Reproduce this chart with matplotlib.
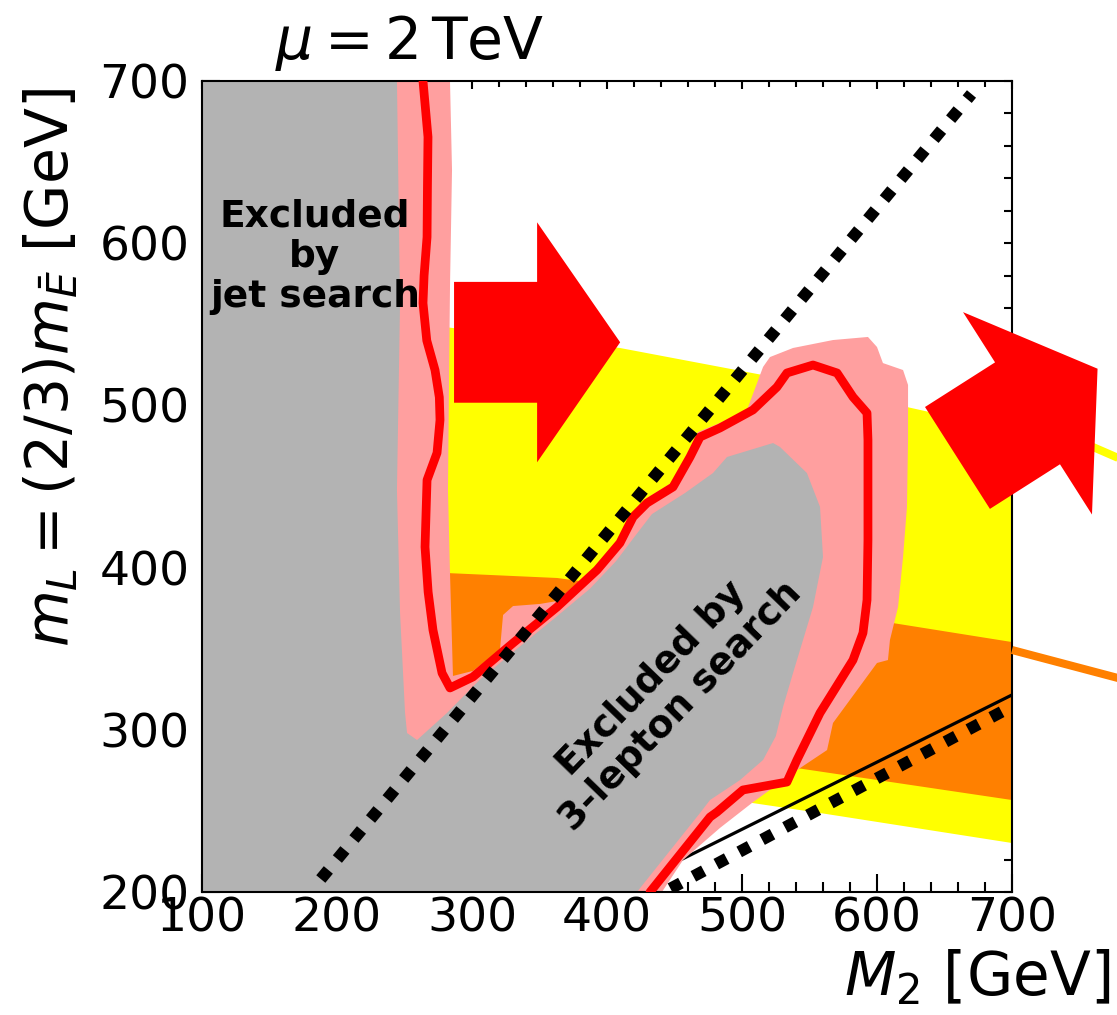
import numpy as np
import matplotlib
matplotlib.use("Agg")
import matplotlib.pyplot as plt
from matplotlib.patches import Polygon
from matplotlib.ticker import MultipleLocator
from matplotlib.transforms import Affine2D, ScaledTranslation

# ---------------- data (GeV) ----------------
# observed exclusion contour (red line)
limit_m2 = [263.7, 267.4, 267.0, 266.7, 264.5, 263.7, 266.5, 272.6, 275.8, 276.3, 274.1,
            266.7, 265.2, 267.5, 271.1, 277.8, 283.7, 300.7, 330.4, 363.0, 392.6,
            409.6, 419.3, 429.6, 448.9, 461.5, 468.9, 483.7, 508.1, 525.9, 533.3,
            552.6, 570.4, 582.2, 592.6, 593.3, 593.3, 592.6, 589.6, 582.2, 557.8,
            540.7, 533.3, 500.7, 481.5, 476.3, 431.9]
limit_ml = [700.0, 665.5, 635.0, 603.8, 580.0, 563.1, 540.0, 521.8, 505.0, 491.0, 470.7,
            454.0, 412.7, 385.0, 361.5, 335.0, 325.8, 332.6, 353.5, 375.7, 398.5,
            415.2, 431.2, 439.8, 449.7, 468.2, 480.5, 486.1, 497.2, 511.3, 520.0,
            524.9, 520.0, 505.2, 495.3, 478.7, 417.0, 380.0, 359.7, 343.0, 310.4,
            281.4, 267.8, 262.9, 249.3, 246.2, 200.0]

# outer edge of the uncertainty band (pink)
band_outer_m2 = [100, 100, 283.7, 285.2, 283.7, 282.2, 283.7, 285.9, 300.7, 320.7,
                 323.0, 330.4, 350.4, 363.0, 392.6, 409.6, 419.3, 429.6, 448.9, 460.0,
                 467.4, 483.7, 503.7, 515.6, 520.7, 537.8, 567.4, 593.3, 600.0, 604.4,
                 619.3, 623.0, 623.0, 622.2, 619.3, 615.6, 609.6, 608.1, 600.0, 567.4,
                 563.0, 543.0, 507.4, 483.7, 456.3, 440.7]
band_outer_ml = [200, 700, 700, 645.1, 573.0, 447.8, 396.7, 333.2, 336.3, 349.2,
                 370.8, 376.3, 377.6, 379.4, 401.6, 418.2, 434.3, 442.9, 452.8, 471.3,
                 483.6, 489.2, 497.2, 523.7, 529.8, 535.4, 540.3, 542.2, 536.0, 526.1,
                 521.8, 512.6, 478.7, 437.4, 406.5, 375.7, 355.4, 343.0, 341.2, 304.2,
                 287.5, 276.4, 254.9, 239.5, 219.7, 200]

# inner edge of the band (grey, excluded)
core_m2 = [100, 100, 244.4, 246.7, 244.4, 246.7, 250.4, 251.9, 259.3, 281.5,
           305.9, 335.6, 361.5, 387.4, 406.7, 422.2, 433.3, 457.8, 478.5, 488.9,
           523.0, 528.1, 548.1, 557.8, 560.0, 552.6, 537.8, 530.4, 525.0, 515.6,
           498.5, 476.3, 468.9, 422.2]
core_ml = [200, 700, 700, 563.1, 447.8, 372.0, 310.4, 298.0, 293.7, 310.4,
           331.0, 351.5, 369.0, 387.0, 404.0, 421.0, 433.0, 446.0, 458.3, 468.2,
           476.8, 474.4, 458.3, 437.4, 406.5, 375.7, 335.0, 314.1, 296.0, 281.4,
           269.0, 256.7, 248.7, 200]

# coloured bands
yellow_top_m2 = [280, 409.6, 515.6, 622.2, 700]
yellow_top_ml = [548.3, 535.4, 518.7, 499.0, 484.6]
yellow_bottom_m2 = [700, 557.8, 507.4, 280]
yellow_bottom_ml = [230.2, 248.7, 254.9, 290]
orange_top_m2 = [280, 363.0, 611.9, 700]
orange_top_ml = [396.7, 393.6, 365.8, 354.1]
orange_bottom_m2 = [700, 540.7, 280]
orange_bottom_ml = [256.7, 276.4, 305]

# pointer lines leaving the frame
yellow_ptr_m2 = [700, 790]
yellow_ptr_ml = [496.0, 463.5]
orange_ptr_m2 = [700, 790]
orange_ptr_ml = [349.2, 329.4]

# straight lines
diag_m2 = [188, 670]
diag_ml = [208, 692]
kin_dot_m2 = [447, 700]
kin_dot_ml = [202.1, 314.5]
kin_solid_m2 = [440, 700]
kin_solid_ml = [213.8, 321.5]

# arrows: tail centre (M2, mL) and direction (deg)
arrow_m2 = [286.7, 659.6]
arrow_ml = [538.9, 467.6]
arrow_angle = [0.0, 32.5]

xticks = [100, 200, 300, 400, 500, 600, 700]
yticks = [200, 300, 400, 500, 600, 700]

# colours
GRAY = "#b3b3b3"
PINK = "#ff9f9f"
RED = "#ff0000"
YELLOW = "#ffff00"
ORANGE = "#ff8000"

# ---------------- figure ----------------
W, H, DPI = 1117, 1015, 100
fig = plt.figure(figsize=(W / DPI, H / DPI), dpi=DPI)
ax = fig.add_axes([202 / W, 1 - 892 / H, 810 / W, 811 / H])
ax.set_xlim(100, 700)
ax.set_ylim(200, 700)


def poly(xs, ys, **kw):
    p = Polygon(np.column_stack([xs, ys]), closed=True, lw=0, **kw)
    ax.add_patch(p)
    return p


poly(list(yellow_top_m2) + list(yellow_bottom_m2),
     list(yellow_top_ml) + list(yellow_bottom_ml), fc=YELLOW, zorder=1.0)
poly(list(orange_top_m2) + list(orange_bottom_m2),
     list(orange_top_ml) + list(orange_bottom_ml), fc=ORANGE, zorder=1.1)

ax.plot(kin_solid_m2, kin_solid_ml, color="black", lw=2.3, zorder=1.5)

poly(band_outer_m2, band_outer_ml, fc=PINK, zorder=2.0)
poly(core_m2, core_ml, fc=GRAY, zorder=2.1)

ax.plot(limit_m2, limit_ml, color=RED, lw=6.3, solid_joinstyle="round",
        solid_capstyle="round", zorder=3)

for xs, ys in [(diag_m2, diag_ml), (kin_dot_m2, kin_dot_ml)]:
    ax.plot(xs, ys, color="black", lw=8.5, linestyle=(0, (1.0, 1.2)),
            dash_capstyle="butt", zorder=4)

# pointer lines outside the frame
ax.plot(yellow_ptr_m2, yellow_ptr_ml, color=YELLOW, lw=5.8, clip_on=False,
        solid_capstyle="butt", zorder=3.5)
ax.plot(orange_ptr_m2, orange_ptr_ml, color=ORANGE, lw=5.8, clip_on=False,
        solid_capstyle="butt", zorder=3.5)

# block arrows (shape in points)
L_shaft, L_head, hw_shaft, hw_head = 59.8, 59.8, 43.5, 86.4
arrow_shape = np.array([[0, -hw_shaft], [L_shaft, -hw_shaft], [L_shaft, -hw_head],
                        [L_shaft + L_head, 0], [L_shaft, hw_head], [L_shaft, hw_shaft],
                        [0, hw_shaft]])
for x0, y0, ang in zip(arrow_m2, arrow_ml, arrow_angle):
    tr = (Affine2D().rotate_deg(ang).scale(fig.dpi / 72.0)
          + ScaledTranslation(x0, y0, ax.transData))
    ax.add_patch(Polygon(arrow_shape, closed=True, fc=RED, lw=0,
                         transform=tr, clip_on=False, zorder=5))

# labels inside
ax.text(183.7, 591.5, "Excluded\nby\njet search", ha="center", va="center",
        fontsize=27, fontweight="bold", linespacing=1.15, zorder=6)
ax.text(444.0, 323.0, "Excluded by\n3-lepton search", ha="center", va="center",
        fontsize=27, fontweight="bold", rotation=46, rotation_mode="anchor",
        linespacing=1.15, zorder=6)

# ticks
ax.set_axisbelow(True)
ax.set_xticks(xticks)
ax.set_yticks(yticks)
ax.xaxis.set_minor_locator(MultipleLocator(20))
ax.yaxis.set_minor_locator(MultipleLocator(20))
ax.tick_params(which="both", direction="in", top=True, right=True, width=1.5,
               colors="black")
ax.tick_params(which="major", length=13)
ax.tick_params(which="minor", length=7)
ax.tick_params(axis="x", labelsize=34, pad=3)
ax.tick_params(axis="y", labelsize=34, pad=9)
for t in ax.xaxis.get_major_ticks():
    t.tick2line.set_markersize(6)
for t in ax.xaxis.get_minor_ticks():
    t.tick2line.set_markersize(4)
for t in ax.yaxis.get_major_ticks() + ax.yaxis.get_minor_ticks():
    t.tick2line.set_markersize(6)
for s in ax.spines.values():
    s.set_linewidth(1.5)
    s.set_zorder(2.5)

# titles / axis labels
fig.text(0.367, 0.958, r"$\mu = 2\,\mathrm{TeV}$", ha="center", va="center",
         fontsize=42)
fig.text(0.994, 0.036, r"$M_2$ [GeV]", ha="right", va="center", fontsize=43)
fig.text(0.046, 0.638, r"$m_L = (2/3)m_{\bar{E}}$ [GeV]", ha="center",
         va="center", rotation=90, fontsize=42)

fig.savefig("out.png", dpi=DPI)
